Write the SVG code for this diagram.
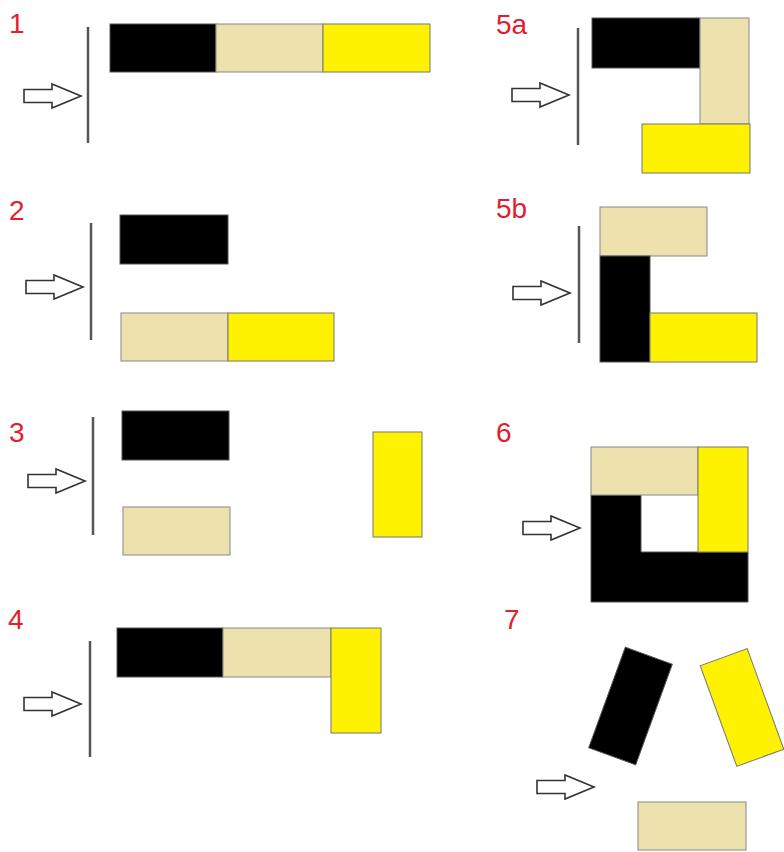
<svg xmlns="http://www.w3.org/2000/svg" xmlns:xlink="http://www.w3.org/1999/xlink" width="784" height="852" viewBox="0 0 784 852">
<style>
.lbl{font-family:"Liberation Sans",Arial,sans-serif;font-size:28px;fill:#e31e2d}
.blk{fill:#000;stroke:#555;stroke-width:1}
.bei{fill:#ede1ae;stroke:#888;stroke-width:1}
.yel{fill:#fff200;stroke:#777;stroke-width:1}
.wall{stroke:#555;stroke-width:2.5;fill:none}
.arr{fill:#fff;stroke:#333;stroke-width:1.6;stroke-linejoin:miter}
</style>
<defs>
<path id="arrow" class="arr" d="M0,-6.5 H28 V-12 L57,0 L28,12 V6.5 H0 Z"/>
</defs>
<rect width="784" height="852" fill="#fff"/>

<g id="panel1">
<text class="lbl" x="9" y="33">1</text>
<line class="wall" x1="88" y1="27" x2="88" y2="143"/>
<use xlink:href="#arrow" href="#arrow" x="24" y="96"/>
<rect class="blk" x="110" y="24" width="106" height="48"/>
<rect class="bei" x="216" y="24" width="107" height="48"/>
<rect class="yel" x="323" y="24" width="107" height="48"/>
</g>

<g id="panel2">
<text class="lbl" x="9" y="220">2</text>
<line class="wall" x1="91" y1="223" x2="91" y2="340"/>
<use xlink:href="#arrow" href="#arrow" x="26" y="287"/>
<rect class="blk" x="120" y="215" width="108" height="49"/>
<rect class="bei" x="121" y="313" width="107" height="48"/>
<rect class="yel" x="228" y="313" width="106" height="48"/>
</g>

<g id="panel3">
<text class="lbl" x="9" y="442">3</text>
<line class="wall" x1="93" y1="417" x2="93" y2="535"/>
<use xlink:href="#arrow" href="#arrow" x="28" y="481"/>
<rect class="blk" x="122" y="411" width="107" height="49"/>
<rect class="bei" x="123" y="507" width="107" height="48"/>
<rect class="yel" x="373" y="432" width="49" height="105"/>
</g>

<g id="panel4">
<text class="lbl" x="8" y="629">4</text>
<line class="wall" x1="90" y1="641" x2="90" y2="757"/>
<use xlink:href="#arrow" href="#arrow" x="24" y="704"/>
<rect class="blk" x="117" y="628" width="106" height="49"/>
<rect class="bei" x="223" y="628" width="108" height="49"/>
<rect class="yel" x="331" y="628" width="50" height="105"/>
</g>

<g id="panel5a">
<text class="lbl" x="496" y="34">5a</text>
<line class="wall" x1="578" y1="28" x2="578" y2="145"/>
<use xlink:href="#arrow" href="#arrow" x="512" y="95"/>
<rect class="blk" x="592" y="18" width="108" height="50"/>
<rect class="bei" x="700" y="18" width="49" height="106"/>
<rect class="yel" x="642" y="124" width="108" height="49"/>
</g>

<g id="panel5b">
<text class="lbl" x="496" y="218">5b</text>
<line class="wall" x1="579" y1="226" x2="579" y2="343"/>
<use xlink:href="#arrow" href="#arrow" x="513" y="293"/>
<rect class="bei" x="600" y="207" width="107" height="49"/>
<rect class="blk" x="600" y="256" width="50" height="106"/>
<rect class="yel" x="650" y="313" width="107" height="49"/>
</g>

<g id="panel6">
<text class="lbl" x="496" y="442">6</text>
<use xlink:href="#arrow" href="#arrow" x="523" y="528"/>
<path class="blk" d="M591,495 H641 V552 H748 V602 H591 Z"/>
<rect class="bei" x="591" y="447" width="107" height="48"/>
<rect class="yel" x="698" y="447" width="50" height="105"/>
</g>

<g id="panel7">
<text class="lbl" x="504" y="629">7</text>
<use xlink:href="#arrow" href="#arrow" x="537" y="787"/>
<rect class="blk" x="-25" y="-53.5" width="50" height="107" transform="translate(630.5,706) rotate(20)"/>
<rect class="yel" x="-25" y="-53.5" width="50" height="107" transform="translate(742,707.5) rotate(-20)"/>
<rect class="bei" x="638" y="802" width="108" height="48"/>
</g>
</svg>
